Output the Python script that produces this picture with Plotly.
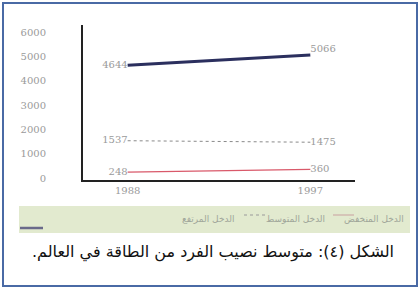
import plotly.graph_objects as go

years = [1988, 1997]
high_income = [4644, 5066]
middle_income = [1537, 1475]
low_income = [248, 360]
y_ticks = [0, 1000, 2000, 3000, 4000, 5000, 6000]
x_tick_labels = ["1988", "1997"]
legend_labels = ["الدخل المنخفض", "الدخل المتوسط", "الدخل المرتفع"]
caption = "الشكل (٤): متوسط نصيب الفرد من الطاقة في العالم."

label_font = dict(family="DejaVu Serif", size=10, color="#9a9a9a")

fig = go.Figure()
fig.add_trace(go.Scatter(
    x=years, y=high_income, mode="lines+text",
    line=dict(color="#2b2f5e", width=3),
    text=[str(v) for v in high_income], textposition=["middle left", "top right"],
    textfont=label_font, cliponaxis=False, showlegend=False))
fig.add_trace(go.Scatter(
    x=years, y=middle_income, mode="lines+text",
    line=dict(color="#8a8a8a", width=1, dash="dot"),
    text=[str(v) for v in middle_income], textposition=["middle left", "middle right"],
    textfont=label_font, cliponaxis=False, showlegend=False))
fig.add_trace(go.Scatter(
    x=years, y=low_income, mode="lines+text",
    line=dict(color="#d9596a", width=1.2),
    text=[str(v) for v in low_income], textposition=["middle left", "middle right"],
    textfont=label_font, cliponaxis=False, showlegend=False))

fig.update_layout(
    width=420, height=289,
    margin=dict(l=83, r=65, t=25, b=109, autoexpand=False),
    paper_bgcolor="white", plot_bgcolor="white",
    xaxis=dict(range=[1985.8, 1999.2], tickvals=years, ticktext=x_tick_labels,
               showgrid=False, zeroline=False, showline=True, linecolor="#222",
               linewidth=2, ticks="", tickfont=label_font, automargin=False),
    yaxis=dict(range=[-80, 6300], tickvals=y_ticks, showgrid=False, zeroline=False,
               showline=True, linecolor="#222", linewidth=2, ticks="",
               tickfont=label_font, ticklabelstandoff=33, automargin=False),
)


def px_x(px):
    return (px - 83) / 272


def px_y(py):
    return (180 - py) / 155


# outer frame
fig.add_shape(type="rect", xref="paper", yref="paper",
              x0=px_x(3), x1=px_x(417), y0=px_y(286), y1=px_y(3),
              line=dict(color="#4a6aa5", width=2), fillcolor="rgba(0,0,0,0)", layer="above")

# legend strip
fig.add_shape(type="rect", xref="paper", yref="paper",
              x0=px_x(19), x1=px_x(410), y0=px_y(233), y1=px_y(206),
              line=dict(width=0), fillcolor="#e2eacf", layer="below")

legend_font = dict(family="DejaVu Sans", size=9, color="#a0a69a")
text_y = px_y(219)
line_y = px_y(215)
fig.add_annotation(x=px_x(406), y=text_y, xref="paper", yref="paper", text=legend_labels[0],
                   showarrow=False, xanchor="right", yanchor="middle", font=legend_font)
fig.add_shape(type="line", xref="paper", yref="paper", x0=px_x(333), x1=px_x(354),
              y0=line_y, y1=line_y, line=dict(color="#c9a0a0", width=1))
fig.add_annotation(x=px_x(327), y=text_y, xref="paper", yref="paper", text=legend_labels[1],
                   showarrow=False, xanchor="right", yanchor="middle", font=legend_font)
fig.add_shape(type="line", xref="paper", yref="paper", x0=px_x(244), x1=px_x(268),
              y0=line_y, y1=line_y, line=dict(color="#9a9a9a", width=1, dash="dot"))
fig.add_annotation(x=px_x(236), y=text_y, xref="paper", yref="paper", text=legend_labels[2],
                   showarrow=False, xanchor="right", yanchor="middle", font=legend_font)
fig.add_shape(type="line", xref="paper", yref="paper", x0=px_x(20), x1=px_x(43),
              y0=px_y(228), y1=px_y(228), line=dict(color="#6a6a8a", width=2.5))

fig.add_annotation(x=px_x(396), y=px_y(264), xref="paper", yref="paper",
                   text="\u202b" + caption + "\u202c",
                   showarrow=False, xanchor="right",
                   font=dict(family="DejaVu Sans", size=16, color="#111"))

fig.write_html("out.html", config={"displayModeBar": False},
               post_script="document.body.style.margin='0';")
